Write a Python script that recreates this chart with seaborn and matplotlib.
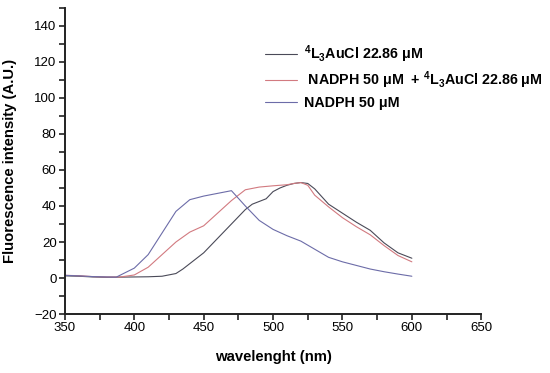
import numpy as np
import pandas as pd
import seaborn as sns
import matplotlib.pyplot as plt
from matplotlib.ticker import MultipleLocator

# wavelength (nm) and intensity (A.U.) per series
wl_nadph = [350, 360, 370, 380, 387, 400, 410, 420, 430, 440, 450, 460, 470,
            480, 490, 500, 510, 520, 530, 540, 550, 560, 570, 580, 590, 600]
int_nadph = [1.5, 1.2, 0.8, 0.6, 0.5, 5.5, 13, 25, 37, 43.5, 45.5, 47, 48.5,
             40, 32, 27, 23.5, 20.5, 16, 11.5, 9, 7, 5, 3.5, 2.2, 1.0]

wl_au = [350, 360, 370, 380, 390, 400, 410, 420, 430, 435, 440, 450, 460, 470,
         480, 485, 490, 495, 500, 505, 510, 515, 520, 525, 530, 540, 550, 560,
         570, 580, 590, 600]
int_au = [1.2, 1.0, 0.6, 0.4, 0.5, 0.6, 0.7, 1.0, 2.5, 5, 8, 14, 22, 30,
          38, 41, 42.5, 44, 48, 50, 51.5, 52.5, 53, 52.5, 49.5, 41, 36, 31,
          26.5, 19.5, 14, 11]

wl_mix = [350, 360, 370, 380, 390, 400, 410, 420, 430, 440, 450, 460, 470,
          480, 490, 500, 510, 515, 520, 525, 530, 540, 550, 560, 570, 580,
          590, 600]
int_mix = [1.5, 1.3, 0.8, 0.6, 0.6, 1.7, 6, 13, 20, 25.5, 29, 36, 43,
           49, 50.5, 51.2, 51.8, 52.5, 53, 51.5, 46, 39.5, 33.5, 28.5, 24, 18,
           12.5, 9]

labels = ["$^4$L$_3$AuCl 22.86 \u03bcM",
          " NADPH 50 \u03bcM  + $^4$L$_3$AuCl 22.86 \u03bcM",
          "NADPH 50 \u03bcM"]
colors = ["#4a4a58", "#d27a80", "#6c6ca8"]

sns.set_style("ticks")
plt.rcParams["font.family"] = ["Liberation Sans", "DejaVu Sans"]
plt.rcParams["mathtext.fontset"] = "custom"
plt.rcParams["mathtext.rm"] = "Liberation Sans:bold"
plt.rcParams["mathtext.it"] = "Liberation Sans:bold"
plt.rcParams["mathtext.bf"] = "Liberation Sans:bold"
plt.rcParams["text.color"] = "black"
plt.rcParams["axes.labelcolor"] = "black"
plt.rcParams["xtick.color"] = "black"
plt.rcParams["ytick.color"] = "black"

fig = plt.figure(figsize=(5.5, 3.73), dpi=100)
ax = fig.add_axes([0.118, 0.158, 0.757, 0.821])

series = [(wl_au, int_au), (wl_mix, int_mix), (wl_nadph, int_nadph)]
for (x, y), lab, col in zip(series, labels, colors):
    sns.lineplot(x=x, y=y, ax=ax, color=col, linewidth=0.8, label=lab)

ax.set_xlim(350, 650)
ax.set_ylim(-20, 150)
ax.xaxis.set_major_locator(MultipleLocator(50))
ax.xaxis.set_minor_locator(MultipleLocator(25))
ax.yaxis.set_major_locator(MultipleLocator(20))
ax.yaxis.set_minor_locator(MultipleLocator(10))
ax.set_yticks([-20, 0, 20, 40, 60, 80, 100, 120, 140])
ax.tick_params(which="both", direction="out", length=4, width=1.2,
               labelsize=9.5, color="#222222", pad=2)
for s in ["left", "bottom"]:
    ax.spines[s].set_linewidth(1.4)
    ax.spines[s].set_color("#222222")
sns.despine(ax=ax)

ax.set_xlabel("wavelenght (nm)", fontsize=10.7, fontweight="bold", labelpad=11)
ax.set_ylabel("Fluorescence intensity (A.U.)", fontsize=10.7, fontweight="bold",
              labelpad=12)

leg = ax.legend(frameon=False, loc="upper left", bbox_to_anchor=(0.449, 0.925),
                fontsize=10.3, handlelength=2.25, handletextpad=0.5,
                labelspacing=0.32)
for t in leg.get_texts():
    t.set_fontweight("bold")

fig.savefig("out.png", dpi=100)
